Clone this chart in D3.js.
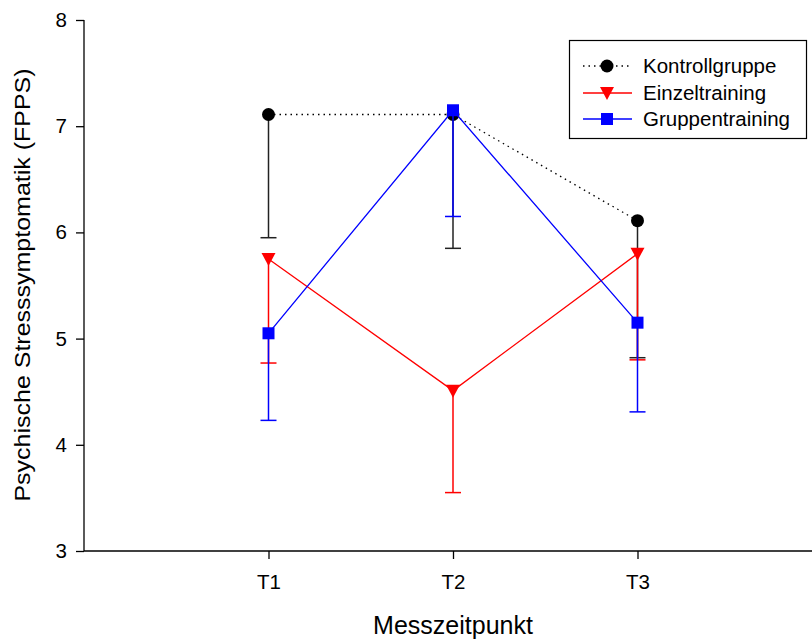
<!DOCTYPE html>
<html><head><meta charset="utf-8">
<script src="https://cdn.jsdelivr.net/npm/d3@7"></script>
<style>body{margin:0;background:#fff}svg{display:block;font-family:"Liberation Sans",Arial,sans-serif}</style>
</head><body>
<svg id="c" width="812" height="639"></svg>
<script>
const categories = ["T1","T2","T3"];
const yTicks = [3,4,5,6,7,8];
const kontrollMean = [7.11, 7.11, 6.11];
const kontrollLow  = [5.95, 5.85, 4.82];
const einzelMean   = [5.75, 4.51, 5.80];
const einzelLow    = [4.77, 3.55, 4.80];
const gruppeMean   = [5.05, 7.15, 5.15];
const gruppeLow    = [4.23, 6.15, 4.31];
const seriesNames  = ["Kontrollgruppe","Einzeltraining","Gruppentraining"];

const svg = d3.select("#c");
const x = d3.scaleLinear().domain([0,4]).range([84,822]);
const y = d3.scaleLinear().domain([3,8]).range([551,20]);

// axes
const yAx = svg.append("g").attr("transform","translate(84,0)")
  .call(d3.axisLeft(y).tickValues(yTicks).tickSize(8).tickPadding(9).tickFormat(d3.format("d")));
const xAx = svg.append("g").attr("transform","translate(0,551)")
  .call(d3.axisBottom(x).tickValues([1,2,3]).tickSize(8).tickFormat((d,i)=>categories[i]));
[yAx,xAx].forEach(g=>{
  g.attr("font-size",null).attr("font-family",null);
  g.select(".domain").attr("stroke","#000").attr("stroke-width",1.3);
  g.selectAll(".tick line").attr("stroke","#000").attr("stroke-width",1.3);
  g.selectAll(".tick text").attr("fill","#000").style("font-size","20.5px").style("font-family","Liberation Sans, Arial, sans-serif");
});
xAx.selectAll(".tick text").attr("y",38).attr("dy",0);
xAx.select(".domain").attr("d","M84,0H812");
yAx.select(".domain").attr("d","M0,20V551");

svg.append("text").attr("x",453).attr("y",634).attr("text-anchor","middle")
  .attr("font-size",25).text("Messzeitpunkt");
svg.append("text").attr("transform","translate(30,285) rotate(-90) scale(1,0.85)").attr("text-anchor","middle")
  .attr("font-size",25).text("Psychische Stresssymptomatik (FPPS)");

const series = [
  {mean:kontrollMean, low:kontrollLow, color:"#000", err:"#222", dash:"1.5,4", shape:"circle"},
  {mean:einzelMean, low:einzelLow, color:"#ff0000", err:"#ff0000", dash:null, shape:"triangle"},
  {mean:gruppeMean, low:gruppeLow, color:"#0000ff", err:"#0000ff", dash:null, shape:"square"}
];

function drawMarker(g, shape, cx, cy, color){
  if(shape==="circle") g.append("circle").attr("cx",cx).attr("cy",cy).attr("r",6.5).attr("fill",color);
  else if(shape==="triangle") g.append("path").attr("d",`M${cx-7},${cy-6}L${cx+7},${cy-6}L${cx},${cy+7}Z`).attr("fill",color);
  else g.append("rect").attr("x",cx-6).attr("y",cy-6).attr("width",12).attr("height",12).attr("fill",color);
}

const line = d3.line().x((d,i)=>x(i+1)).y(d=>y(d));
series.forEach(s=>{
  const g = svg.append("g");
  s.mean.forEach((m,i)=>{
    const cx = x(i+1);
    g.append("line").attr("x1",cx).attr("x2",cx).attr("y1",y(m)).attr("y2",y(s.low[i]))
      .attr("stroke",s.err).attr("stroke-width",1.5);
    g.append("line").attr("x1",cx-8).attr("x2",cx+8).attr("y1",y(s.low[i])).attr("y2",y(s.low[i]))
      .attr("stroke",s.err).attr("stroke-width",1.5);
  });
  g.append("path").attr("d",line(s.mean)).attr("fill","none").attr("stroke",s.color)
    .attr("stroke-width",1.3).attr("stroke-dasharray",s.dash);
  s.mean.forEach((m,i)=>drawMarker(g,s.shape,x(i+1),y(m),s.color));
});

// legend
const lg = svg.append("g");
lg.append("rect").attr("x",569.5).attr("y",40.5).attr("width",237).attr("height",98)
  .attr("fill","#fff").attr("stroke","#000").attr("stroke-width",1.2);
const rowsY = [66,93,119];
series.forEach((s,i)=>{
  lg.append("line").attr("x1",583).attr("x2",632).attr("y1",rowsY[i]).attr("y2",rowsY[i])
    .attr("stroke",s.color).attr("stroke-width",1.3).attr("stroke-dasharray",s.dash);
  drawMarker(lg,s.shape,607,rowsY[i],s.color);
  lg.append("text").attr("x",643).attr("y",rowsY[i]+7).attr("font-size",20.5).text(seriesNames[i]);
});
</script>
</body></html>
